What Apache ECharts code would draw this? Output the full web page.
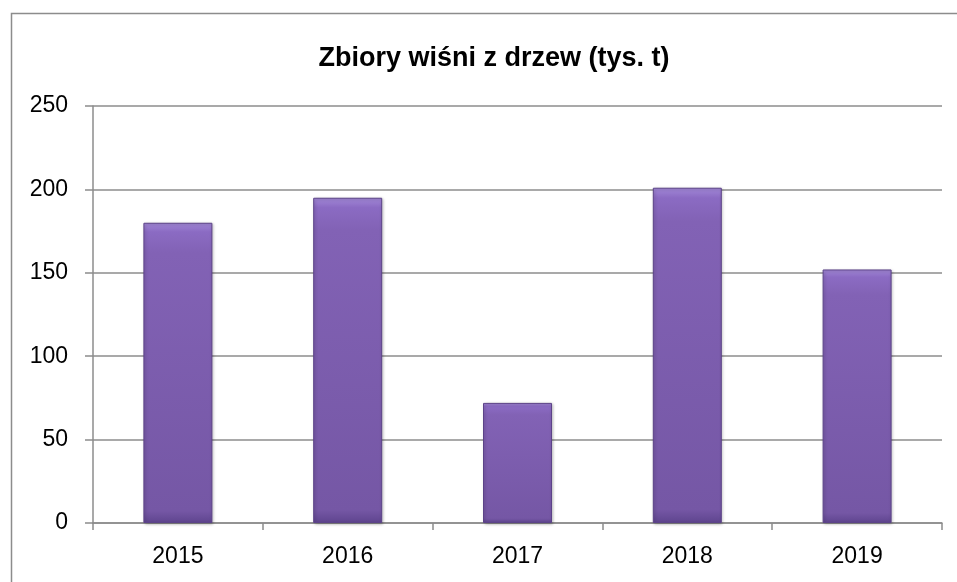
<!DOCTYPE html>
<html lang="pl">
<head>
<meta charset="UTF-8" />
<title>Zbiory wiśni z drzew</title>
<script src="https://cdn.jsdelivr.net/npm/echarts@6/dist/echarts.min.js"></script>
<style>
  html, body { margin:0; padding:0; width:100%; height:100%; background:#fff; overflow:hidden; }
  #chart { position:absolute; left:0; top:0; width:957px; height:582px; }
</style>
</head>
<body>
<div id="chart"></div>
<script>
// dane
const years = ['2015', '2016', '2017', '2018', '2019'];
const harvest = [180, 195, 72, 201, 152];
const yTicks = [0, 50, 100, 150, 200, 250];

const FONT = '"Liberation Sans", Arial, sans-serif';

// fioletowy słupek z lekkim "fazowaniem" u góry i ciemniejszym dołem
const barFill = new echarts.graphic.LinearGradient(0, 0, 0, 1, [
  { offset: 0, color: '#a389d8' },
  { offset: 0.03, color: '#8b6bc3' },
  { offset: 0.1, color: '#8262b5' },
  { offset: 0.96, color: '#7557a5' },
  { offset: 1, color: '#5e448e' }
]);

const chart = echarts.init(document.getElementById('chart'));
chart.setOption({
  animation: false,
  title: {
    text: 'Zbiory wiśni z drzew (tys. t)',
    left: 489, top: 40, textAlign: 'center',
    textStyle: { fontFamily: FONT, fontSize: 27, fontWeight: 'bold', color: '#000' }
  },
  graphic: [{
    type: 'rect',
    shape: { x: 11.5, y: 13.5, width: 960, height: 600 },
    style: { fill: 'none', stroke: '#8c8c8c', lineWidth: 1.5 },
    silent: true
  }],
  grid: { left: 93, right: 15, top: 106, bottom: 59 },
  xAxis: {
    type: 'category',
    data: years,
    axisLine: { lineStyle: { color: '#8c8c8c', width: 1.5 } },
    axisTick: { show: true, length: 7, lineStyle: { color: '#8c8c8c', width: 1.5 } },
    axisLabel: { fontFamily: FONT, fontSize: 23, color: '#000', margin: 22 }
  },
  yAxis: {
    type: 'value',
    min: yTicks[0], max: yTicks[yTicks.length - 1], interval: 50,
    axisLine: { show: true, lineStyle: { color: '#8c8c8c', width: 1.5 } },
    axisTick: { show: true, inside: false, length: 8, lineStyle: { color: '#8c8c8c', width: 1.5 } },
    splitLine: { lineStyle: { color: '#8c8c8c', width: 1.5 } },
    axisLabel: { fontFamily: FONT, fontSize: 23, color: '#000', margin: 25 }
  },
  series: [{
    type: 'bar',
    data: harvest,
    barWidth: 69,
    itemStyle: {
      color: barFill,
      borderColor: '#5c4388',
      borderWidth: 1,
      shadowColor: 'rgba(0,0,0,0.25)',
      shadowBlur: 3,
      shadowOffsetX: 1,
      shadowOffsetY: 1
    }
  }]
});
</script>
</body>
</html>
